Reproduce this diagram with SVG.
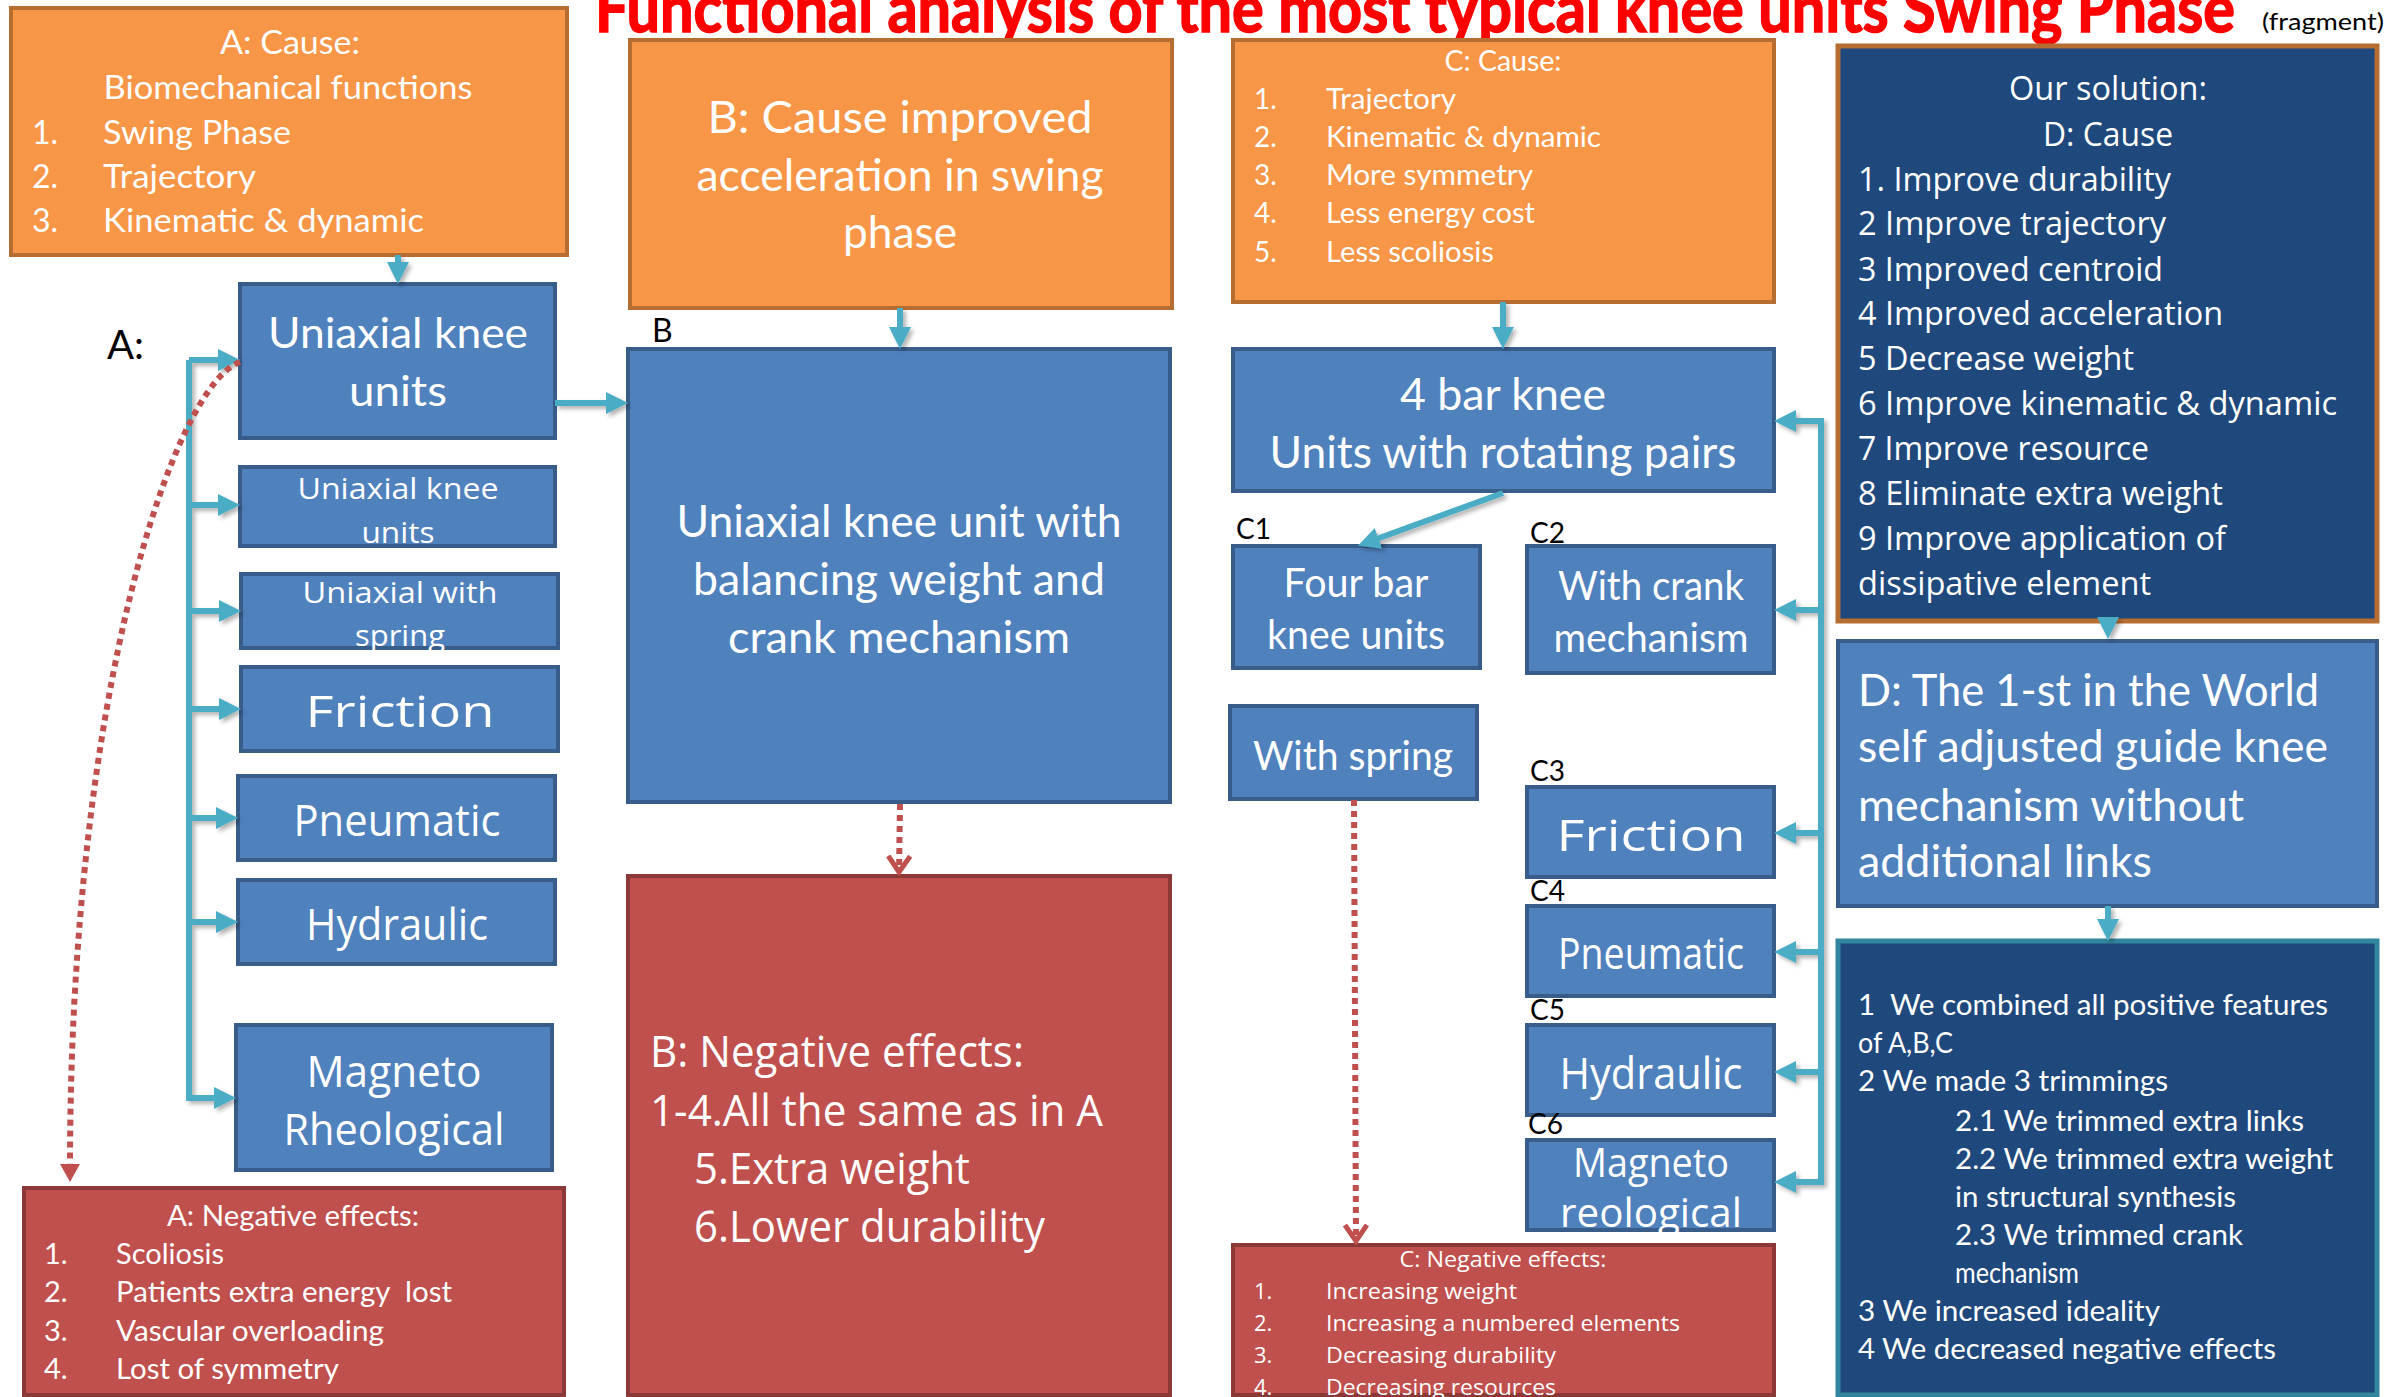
<svg xmlns="http://www.w3.org/2000/svg" width="2392" height="1397" viewBox="0 0 2392 1397">
<defs>
<style>
.or{fill:#F79646;stroke:#B66D31;stroke-width:4}
.bl{fill:#4F81BD;stroke:#385D8A;stroke-width:4}
.rd{fill:#C0504D;stroke:#8C3836;stroke-width:4}
.db1{fill:#1F497D;stroke:#B66D31;stroke-width:5}
.db2{fill:#1F497D;stroke:#31859C;stroke-width:5}
text{fill:#fff;font-family:Lato,"Liberation Sans",sans-serif}
.o{font-family:"Open Sans","DejaVu Sans",sans-serif}
.c{text-anchor:middle}
.k{fill:#000}
.pre{white-space:pre}
.con{stroke:#4BACC6;stroke-width:6;fill:none}
.dot{stroke:#C0504D;stroke-width:6;stroke-dasharray:6 5;fill:none}
</style>
<marker id="ah" markerUnits="userSpaceOnUse" markerWidth="24" markerHeight="24" refX="8" refY="11" orient="auto"><path d="M0,0 L22,11 L0,22 Z" fill="#4BACC6"/></marker>
<marker id="rf" markerUnits="userSpaceOnUse" markerWidth="22" markerHeight="22" refX="4" refY="10" orient="auto"><path d="M0,0 L18,10 L0,20 Z" fill="#C0504D"/></marker>
<marker id="rv" markerUnits="userSpaceOnUse" markerWidth="26" markerHeight="28" refX="17" refY="13" orient="auto"><path d="M1,2 L17,13 L1,24" fill="none" stroke="#C0504D" stroke-width="5"/></marker>
<filter id="sh" filterUnits="userSpaceOnUse" x="0" y="0" width="2392" height="1397"><feDropShadow dx="3" dy="3" stdDeviation="2" flood-color="#000" flood-opacity="0.3"/></filter>
</defs>
<rect x="0" y="0" width="2392" height="1397" fill="#fff"/>

<g id="title">
<text x="595" y="32" font-size="66" font-weight="bold" style="fill:#FF0000;stroke:#FF0000;stroke-width:1.5" textLength="1640" lengthAdjust="spacingAndGlyphs">Functional analysis of the most typical knee units Swing Phase</text>
<text class="k" x="2262" y="30" font-size="24" textLength="122" lengthAdjust="spacingAndGlyphs">(fragment)</text>
</g>

<g id="a-cause">
<rect class="or" x="11" y="8" width="556" height="247"/>
<g font-size="32">
<text class="c" x="290" y="54" textLength="140" lengthAdjust="spacingAndGlyphs">A: Cause:</text>
<text class="c" x="288" y="99" textLength="369" lengthAdjust="spacingAndGlyphs">Biomechanical functions</text>
<text x="32" y="144">1.</text><text x="103" y="144" textLength="188" lengthAdjust="spacingAndGlyphs">Swing Phase</text>
<text x="32" y="188">2.</text><text x="103" y="188" textLength="153" lengthAdjust="spacingAndGlyphs">Trajectory</text>
<text x="32" y="232">3.</text><text x="103" y="232" textLength="321" lengthAdjust="spacingAndGlyphs">Kinematic &amp; dynamic</text>
</g>
</g>

<g id="label-a"><text class="k" x="107" y="359" font-size="40">A:</text></g>

<g id="a-uniaxial-main">
<rect class="bl" x="240" y="284" width="315" height="154"/>
<text class="c" x="398" y="348" font-size="42" textLength="260" lengthAdjust="spacingAndGlyphs">Uniaxial knee</text>
<text class="c" x="398" y="406" font-size="42" textLength="98" lengthAdjust="spacingAndGlyphs">units</text>
</g>

<g id="a-uniaxial-2">
<rect class="bl" x="240" y="467" width="315" height="79"/>
<text class="o c" x="398" y="499" font-size="30" textLength="201" lengthAdjust="spacingAndGlyphs">Uniaxial knee</text>
<text class="o c" x="398" y="543" font-size="30" textLength="73" lengthAdjust="spacingAndGlyphs">units</text>
</g>

<g id="a-uniaxial-spring">
<rect class="bl" x="241" y="574" width="317" height="74"/>
<text class="o c" x="400" y="603" font-size="30" textLength="195" lengthAdjust="spacingAndGlyphs">Uniaxial with</text>
<text class="o c" x="400" y="646" font-size="30" textLength="90" lengthAdjust="spacingAndGlyphs">spring</text>
</g>

<g id="a-friction">
<rect class="bl" x="241" y="667" width="317" height="84"/>
<text class="o c" x="400" y="727" font-size="44" textLength="189" lengthAdjust="spacingAndGlyphs">Friction</text>
</g>

<g id="a-pneumatic">
<rect class="bl" x="238" y="776" width="317" height="84"/>
<text class="o c" x="397" y="836" font-size="44" textLength="207" lengthAdjust="spacingAndGlyphs">Pneumatic</text>
</g>

<g id="a-hydraulic">
<rect class="bl" x="238" y="880" width="317" height="84"/>
<text class="o c" x="397" y="940" font-size="44" textLength="182" lengthAdjust="spacingAndGlyphs">Hydraulic</text>
</g>

<g id="a-magneto">
<rect class="bl" x="236" y="1025" width="316" height="145"/>
<text class="o c" x="394" y="1087" font-size="44" textLength="175" lengthAdjust="spacingAndGlyphs">Magneto</text>
<text class="o c" x="394" y="1145" font-size="44" textLength="221" lengthAdjust="spacingAndGlyphs">Rheological</text>
</g>

<g id="a-negative">
<rect class="rd" x="24" y="1188" width="540" height="207"/>
<g font-size="29">
<text class="c" x="293" y="1226" textLength="252" lengthAdjust="spacingAndGlyphs">A: Negative effects:</text>
<text x="44" y="1264">1.</text><text x="116" y="1264" textLength="108" lengthAdjust="spacingAndGlyphs">Scoliosis</text>
<text x="44" y="1302">2.</text><text class="pre" x="116" y="1302" textLength="336" lengthAdjust="spacingAndGlyphs">Patients extra energy  lost</text>
<text x="44" y="1341">3.</text><text x="116" y="1341" textLength="268" lengthAdjust="spacingAndGlyphs">Vascular overloading</text>
<text x="44" y="1379">4.</text><text x="116" y="1379" textLength="223" lengthAdjust="spacingAndGlyphs">Lost of symmetry</text>
</g>
</g>

<g id="b-cause">
<rect class="or" x="630" y="40" width="542" height="268"/>
<g font-size="44">
<text class="c" x="900" y="133" textLength="385" lengthAdjust="spacingAndGlyphs">B: Cause improved</text>
<text class="c" x="900" y="191" textLength="407" lengthAdjust="spacingAndGlyphs">acceleration in swing</text>
<text class="c" x="900" y="248" textLength="114" lengthAdjust="spacingAndGlyphs">phase</text>
</g>
</g>

<g id="label-b"><text class="k" x="652" y="342" font-size="32">B</text></g>

<g id="b-main">
<rect class="bl" x="628" y="349" width="542" height="453"/>
<g font-size="44">
<text class="c" x="899" y="537" textLength="445" lengthAdjust="spacingAndGlyphs">Uniaxial knee unit with</text>
<text class="c" x="899" y="595" textLength="412" lengthAdjust="spacingAndGlyphs">balancing weight and</text>
<text class="c" x="899" y="653" textLength="342" lengthAdjust="spacingAndGlyphs">crank mechanism</text>
</g>
</g>

<g id="b-negative">
<rect class="rd" x="628" y="876" width="542" height="519"/>
<g font-size="43">
<text class="o" x="650" y="1067" textLength="374" lengthAdjust="spacingAndGlyphs">B: Negative effects:</text>
<text class="o" x="650" y="1126" textLength="453" lengthAdjust="spacingAndGlyphs">1-4.All the same as in A</text>
<text class="o" x="694" y="1184" textLength="276" lengthAdjust="spacingAndGlyphs">5.Extra weight</text>
<text class="o" x="694" y="1242" textLength="351" lengthAdjust="spacingAndGlyphs">6.Lower durability</text>
</g>
</g>

<g id="c-cause">
<rect class="or" x="1233" y="40" width="541" height="262"/>
<g font-size="28">
<text class="c" x="1503" y="71" textLength="117" lengthAdjust="spacingAndGlyphs">C: Cause:</text>
<text x="1254" y="109">1.</text><text x="1326" y="109" textLength="130" lengthAdjust="spacingAndGlyphs">Trajectory</text>
<text x="1254" y="147">2.</text><text x="1326" y="147" textLength="275" lengthAdjust="spacingAndGlyphs">Kinematic &amp; dynamic</text>
<text x="1254" y="185">3.</text><text x="1326" y="185" textLength="207" lengthAdjust="spacingAndGlyphs">More symmetry</text>
<text x="1254" y="223">4.</text><text x="1326" y="223" textLength="209" lengthAdjust="spacingAndGlyphs">Less energy cost</text>
<text x="1254" y="262">5.</text><text x="1326" y="262" textLength="168" lengthAdjust="spacingAndGlyphs">Less scoliosis</text>
</g>
</g>

<g id="c-4bar">
<rect class="bl" x="1233" y="349" width="541" height="142"/>
<text class="c" x="1503" y="410" font-size="44" textLength="206" lengthAdjust="spacingAndGlyphs">4 bar knee</text>
<text class="c" x="1503" y="468" font-size="44" textLength="467" lengthAdjust="spacingAndGlyphs">Units with rotating pairs</text>
</g>

<g id="c1-fourbar">
<text class="k" x="1236" y="539" font-size="28">C1</text>
<rect class="bl" x="1233" y="546" width="247" height="122"/>
<text class="c" x="1356" y="597" font-size="40" textLength="145" lengthAdjust="spacingAndGlyphs">Four bar</text>
<text class="c" x="1356" y="649" font-size="40" textLength="178" lengthAdjust="spacingAndGlyphs">knee units</text>
</g>

<g id="c2-crank">
<text class="k" x="1530" y="543" font-size="28">C2</text>
<rect class="bl" x="1527" y="546" width="247" height="127"/>
<text class="c" x="1651" y="600" font-size="40" textLength="186" lengthAdjust="spacingAndGlyphs">With crank</text>
<text class="c" x="1651" y="652" font-size="40" textLength="195" lengthAdjust="spacingAndGlyphs">mechanism</text>
</g>

<g id="c-spring">
<rect class="bl" x="1230" y="706" width="247" height="93"/>
<text class="c" x="1353" y="770" font-size="40" textLength="200" lengthAdjust="spacingAndGlyphs">With spring</text>
</g>

<g id="c3-friction">
<text class="k" x="1530" y="781" font-size="28">C3</text>
<rect class="bl" x="1527" y="787" width="247" height="90"/>
<text class="o c" x="1651" y="851" font-size="44" textLength="189" lengthAdjust="spacingAndGlyphs">Friction</text>
</g>

<g id="c4-pneumatic">
<text class="k" x="1530" y="901" font-size="28">C4</text>
<rect class="bl" x="1527" y="906" width="247" height="90"/>
<text class="o c" x="1651" y="969" font-size="44" textLength="186" lengthAdjust="spacingAndGlyphs">Pneumatic</text>
</g>

<g id="c5-hydraulic">
<text class="k" x="1530" y="1020" font-size="28">C5</text>
<rect class="bl" x="1527" y="1025" width="247" height="90"/>
<text class="o c" x="1651" y="1089" font-size="44" textLength="183" lengthAdjust="spacingAndGlyphs">Hydraulic</text>
</g>

<g id="c6-magneto">
<text class="k" x="1528" y="1134" font-size="28">C6</text>
<rect class="bl" x="1527" y="1140" width="247" height="90"/>
<text class="o c" x="1651" y="1177" font-size="40" textLength="156" lengthAdjust="spacingAndGlyphs">Magneto</text>
<text class="o c" x="1651" y="1227" font-size="40" textLength="182" lengthAdjust="spacingAndGlyphs">reological</text>
</g>

<g id="c-negative">
<rect class="rd" x="1233" y="1245" width="541" height="150"/>
<g font-size="22">
<text class="o c" x="1503" y="1267" textLength="207" lengthAdjust="spacingAndGlyphs">C: Negative effects:</text>
<text class="o" x="1254" y="1299">1.</text><text class="o" x="1326" y="1299" textLength="191" lengthAdjust="spacingAndGlyphs">Increasing weight</text>
<text class="o" x="1254" y="1331">2.</text><text class="o" x="1326" y="1331" textLength="354" lengthAdjust="spacingAndGlyphs">Increasing a numbered elements</text>
<text class="o" x="1254" y="1363">3.</text><text class="o" x="1326" y="1363" textLength="230" lengthAdjust="spacingAndGlyphs">Decreasing durability</text>
<text class="o" x="1254" y="1395">4.</text><text class="o" x="1326" y="1395" textLength="230" lengthAdjust="spacingAndGlyphs">Decreasing resources</text>
</g>
</g>

<g id="d-solution">
<rect class="db1" x="1838" y="46" width="539" height="575"/>
<g font-size="32">
<text class="o c" x="2108" y="100" textLength="198" lengthAdjust="spacingAndGlyphs">Our solution:</text>
<text class="o c" x="2108" y="146" textLength="130" lengthAdjust="spacingAndGlyphs">D: Cause</text>
<text class="o" x="1858" y="191" textLength="313" lengthAdjust="spacingAndGlyphs">1. Improve durability</text>
<text class="o" x="1858" y="235" textLength="308" lengthAdjust="spacingAndGlyphs">2 Improve trajectory</text>
<text class="o" x="1858" y="281" textLength="305" lengthAdjust="spacingAndGlyphs">3 Improved centroid</text>
<text class="o" x="1858" y="325" textLength="365" lengthAdjust="spacingAndGlyphs">4 Improved acceleration</text>
<text class="o" x="1858" y="370" textLength="276" lengthAdjust="spacingAndGlyphs">5 Decrease weight</text>
<text class="o" x="1858" y="415" textLength="479" lengthAdjust="spacingAndGlyphs">6 Improve kinematic &amp; dynamic</text>
<text class="o" x="1858" y="460" textLength="291" lengthAdjust="spacingAndGlyphs">7 Improve resource</text>
<text class="o" x="1858" y="505" textLength="365" lengthAdjust="spacingAndGlyphs">8 Eliminate extra weight</text>
<text class="o" x="1858" y="550" textLength="368" lengthAdjust="spacingAndGlyphs">9 Improve application of</text>
<text class="o" x="1858" y="595" textLength="293" lengthAdjust="spacingAndGlyphs">dissipative element</text>
</g>
</g>

<g id="d-main">
<rect class="bl" x="1838" y="641" width="539" height="265"/>
<g font-size="44">
<text x="1858" y="706" textLength="461" lengthAdjust="spacingAndGlyphs">D: The 1-st in the World</text>
<text x="1858" y="762" textLength="470" lengthAdjust="spacingAndGlyphs">self adjusted guide knee</text>
<text x="1858" y="821" textLength="386" lengthAdjust="spacingAndGlyphs">mechanism without</text>
<text x="1858" y="877" textLength="294" lengthAdjust="spacingAndGlyphs">additional links</text>
</g>
</g>

<g id="d-result">
<rect class="db2" x="1838" y="941" width="539" height="454"/>
<g font-size="29">
<text class="pre" x="1858" y="1015" textLength="470" lengthAdjust="spacingAndGlyphs">1  We combined all positive features</text>
<text x="1858" y="1053" textLength="95" lengthAdjust="spacingAndGlyphs">of A,B,C</text>
<text x="1858" y="1091" textLength="310" lengthAdjust="spacingAndGlyphs">2 We made 3 trimmings</text>
<text x="1955" y="1131" textLength="349" lengthAdjust="spacingAndGlyphs">2.1 We trimmed extra links</text>
<text x="1955" y="1169" textLength="378" lengthAdjust="spacingAndGlyphs">2.2 We trimmed extra weight</text>
<text x="1955" y="1207" textLength="281" lengthAdjust="spacingAndGlyphs">in structural synthesis</text>
<text x="1955" y="1245" textLength="288" lengthAdjust="spacingAndGlyphs">2.3 We trimmed crank</text>
<text x="1955" y="1283" textLength="124" lengthAdjust="spacingAndGlyphs">mechanism</text>
<text x="1858" y="1321" textLength="302" lengthAdjust="spacingAndGlyphs">3 We increased ideality</text>
<text x="1858" y="1359" textLength="418" lengthAdjust="spacingAndGlyphs">4 We decreased negative effects</text>
</g>
</g>

<g id="connectors">
<g filter="url(#sh)">
<line class="con" x1="398" y1="255" x2="398" y2="270" marker-end="url(#ah)"/>
<line class="con" x1="555" y1="403" x2="614" y2="403" marker-end="url(#ah)"/>
<path class="con" d="M189,360 H226" marker-end="url(#ah)"/>
<path class="con" d="M189,360 V1098 H222" marker-end="url(#ah)"/>
<line class="con" x1="189" y1="505" x2="226" y2="505" marker-end="url(#ah)"/>
<line class="con" x1="189" y1="611" x2="227" y2="611" marker-end="url(#ah)"/>
<line class="con" x1="189" y1="709" x2="227" y2="709" marker-end="url(#ah)"/>
<line class="con" x1="189" y1="818" x2="224" y2="818" marker-end="url(#ah)"/>
<line class="con" x1="189" y1="922" x2="224" y2="922" marker-end="url(#ah)"/>
<line class="con" x1="900" y1="308" x2="900" y2="335" marker-end="url(#ah)"/>
<line class="con" x1="1503" y1="302" x2="1503" y2="335" marker-end="url(#ah)"/>
<line class="con" x1="1503" y1="493" x2="1371" y2="541" marker-end="url(#ah)"/>
<path class="con" d="M1788,421 H1821 V1182 H1788"/>
<line class="con" x1="1821" y1="421" x2="1788" y2="421" marker-end="url(#ah)"/>
<line class="con" x1="1821" y1="1182" x2="1788" y2="1182" marker-end="url(#ah)"/>
<line class="con" x1="1821" y1="610" x2="1788" y2="610" marker-end="url(#ah)"/>
<line class="con" x1="1821" y1="833" x2="1788" y2="833" marker-end="url(#ah)"/>
<line class="con" x1="1821" y1="952" x2="1788" y2="952" marker-end="url(#ah)"/>
<line class="con" x1="1821" y1="1072" x2="1788" y2="1072" marker-end="url(#ah)"/>
<polygon points="2097,617 2119,617 2108,639" fill="#4BACC6"/>
<line class="con" x1="2108" y1="906" x2="2108" y2="927" marker-end="url(#ah)"/>
</g>
<path class="dot" d="M240,362 C175,385 70,690 70,1168" marker-end="url(#rf)"/>
<line class="dot" x1="900" y1="804" x2="899" y2="872" marker-end="url(#rv)"/>
<line class="dot" x1="1354" y1="800" x2="1356" y2="1241" marker-end="url(#rv)"/>
</g>
</svg>
